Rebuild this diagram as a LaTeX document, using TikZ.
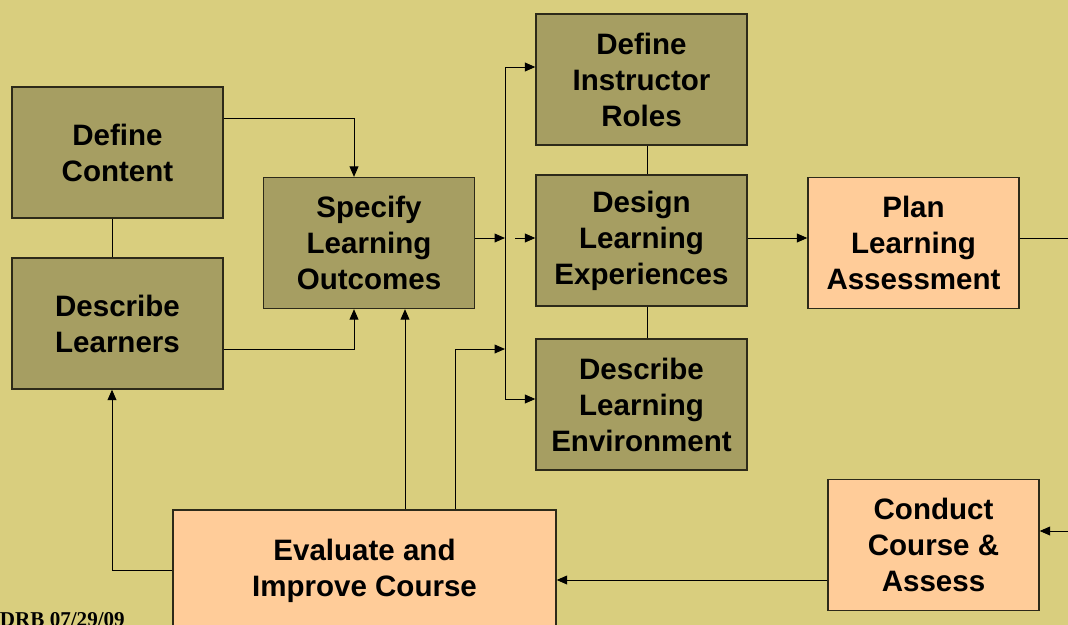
\documentclass[tikz,border=0pt]{standalone}
\usepackage{fontspec}
\setmainfont{Liberation Sans}
\newfontfamily\stampfont{Liberation Serif}
\usetikzlibrary{arrows.meta}
\definecolor{ground}{RGB}{217,206,126}
\definecolor{olivebox}{RGB}{166,158,98}
\definecolor{peach}{RGB}{255,204,153}
\definecolor{rim}{RGB}{45,42,25}
\tikzset{
  task/.style={draw=rim,line width=0.9pt,fill=olivebox,
    minimum width=5.275cm,minimum height=3.275cm,inner sep=0pt,
    align=center,font=\bfseries\fontsize{21}{25.6}\selectfont},
  result/.style={task,fill=peach},
  link/.style={line width=0.7pt,-{Triangle[length=2.6mm,width=2.2mm]}},
  plain/.style={line width=0.7pt}
}
\begin{document}
\begin{tikzpicture}[x=0.025cm,y=-0.025cm]
      \useasboundingbox (0,0) rectangle (1068,625);
      \fill[ground] (0,0) rectangle (1068,625);
      \clip (0,0) rectangle (1068,625);
      \node[task](content) at (117.5,152.5){Define\\Content};
      \node[task](learners) at (117.5,323.5){Describe\\Learners};
      \node[task](outcomes) at (369,243){Specify\\Learning\\Outcomes};
      \node[task](roles) at (641.5,79.5){Define\\Instructor\\Roles};
      \node[task](experiences) at (641.5,240.5){Design\\Learning\\Experiences};
      \node[task](environment) at (641.5,404.5){Describe\\Learning\\Environment};
      \node[result](assessment) at (913.5,243){Plan\\Learning\\Assessment};
      \node[result](conduct) at (933.5,545){Conduct\\Course \&\\Assess};
      \node[result,minimum width=9.575cm,minimum height=3.05cm](evaluate) at (364.5,571){Evaluate and\\Improve Course};
      \coordinate (busN) at (505,67);
      \coordinate (busS) at (505,399);
      \coordinate (outflow) at (1068,238);
      \coordinate (inflow) at (1068,531);
      \node[anchor=base west,font=\stampfont\bfseries\fontsize{15}{18}\selectfont](stamp) at (-5,626){DRB 07/29/09};
      % links into and out of the outcomes box
      \draw[plain] (112,0 |- content.south) -- (112,0 |- learners.north);
      \draw[link] (content.east |- 0,118) -| (354,0 |- outcomes.north);
      \draw[link] (learners.east |- 0,349) -| (354,0 |- outcomes.south);
      \draw[link] (outcomes.east |- 0,238) -- (505,238);
      % the bus feeding the three design boxes
      \draw[plain] (busN) -- (busS);
      \draw[link] (busN) -- (busN -| roles.west);
      \draw[link] (busS) -- (busS -| environment.west);
      \draw[link] (515,238) -- (experiences.west |- 0,238);
      \draw[plain] (647,0 |- roles.south) -- (647,0 |- experiences.north);
      \draw[plain] (647,0 |- experiences.south) -- (647,0 |- environment.north);
      \draw[link] (experiences.east |- 0,238) -- (assessment.west |- 0,238);
      \draw[plain] (assessment.east |- 0,238) -- (outflow);
      \draw[link] (inflow) -- (conduct.east |- inflow);
      \draw[link] (conduct.west |- 0,580) -- (evaluate.east |- 0,580);
      % feedback from the evaluation
      \draw[link] (evaluate.west |- 0,570) -| (112,0 |- learners.south);
      \draw[link] (405,0 |- evaluate.north) -- (405,0 |- outcomes.south);
      \draw[link] (455,0 |- evaluate.north) |- (505,349);
    \end{tikzpicture}
\end{document}
